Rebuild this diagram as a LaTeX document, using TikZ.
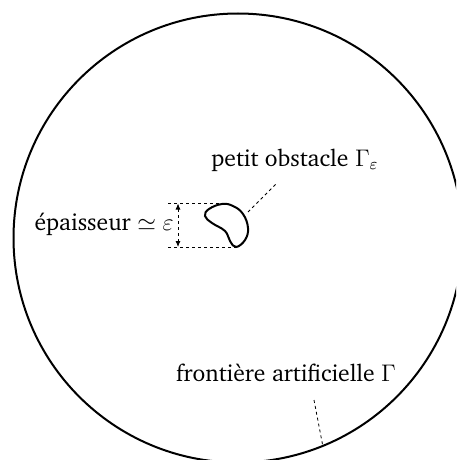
\documentclass[tikz,border=0pt]{standalone}
\usepackage[T1]{fontenc}
\usepackage{charter}
\usetikzlibrary{arrows.meta}
\begin{document}
\begin{tikzpicture}[x=0.5pt,y=-0.5pt,
  bord/.style={line width=1pt},
  obst/.style={line width=1pt},
  lead/.style={line width=0.4pt, dash pattern=on 1.5pt off 1.5pt},
  lbl/.style={inner sep=1pt, font=\fontsize{11.8}{14}\selectfont}]
\useasboundingbox (0,0) rectangle (456,460);
\clip (0,0) rectangle (456,460);
\coordinate (O) at (238,238);
\draw[bord] (O) circle[radius=224.5*0.5pt];
\draw[obst] plot[smooth cycle, tension=0.7] coordinates {(222,204) (209,209) (205,216) (212,223) (225,231) (230,241) (236,247) (245,240) (248,228) (243,214) (233,206)};
\coordinate (t1) at (168,203.5);
\coordinate (t2) at (222,203.5);
\coordinate (b1) at (168,247);
\coordinate (b2) at (236,247);
\coordinate (at) at (178,203.5);
\coordinate (ab) at (178,247);
\draw[lead] (t1) -- (t2);
\draw[lead] (b1) -- (b2);
\draw[lead, {Latex[length=3pt,width=2.5pt]}-{Latex[length=3pt,width=2.5pt]}] (at) -- (ab);
\node[lbl, anchor=east] (ep) at (176,224) {\'epaisseur $\simeq \varepsilon$};
\node[lbl] (po) at (295,160) {petit obstacle $\Gamma_\varepsilon$};
\node[lbl] (fa) at (286,373) {fronti\`ere artificielle $\Gamma$};
\coordinate (p1) at (248,212);
\coordinate (p2) at (277,183);
\coordinate (f1) at (314,400);
\coordinate (f2) at (323,447);
\draw[lead] (p1) -- (p2);
\draw[lead] (f1) -- (f2);
\end{tikzpicture}
\end{document}
